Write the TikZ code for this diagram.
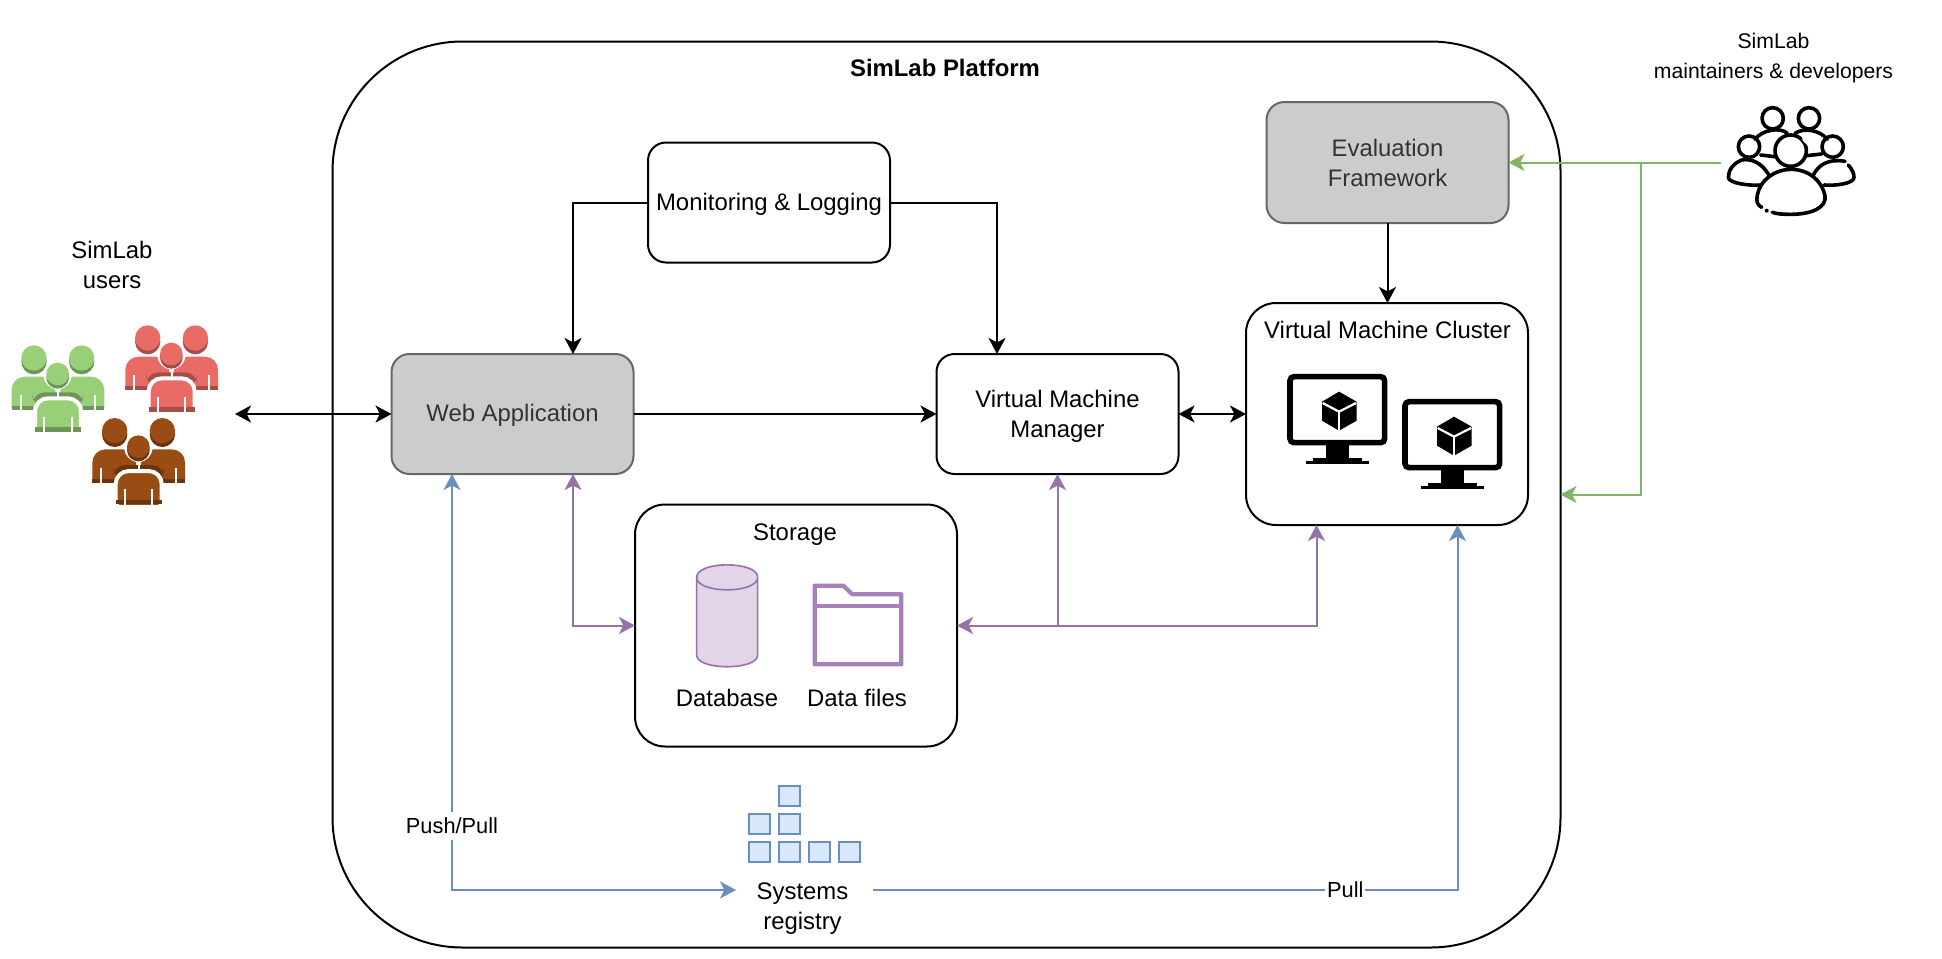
\documentclass[tikz,border=0pt]{standalone}
\usepackage{fontspec}
\setmainfont{Liberation Sans}
\usetikzlibrary{arrows.meta,calc}
\definecolor{grayfill}{HTML}{CCCCCC}
\definecolor{graydraw}{HTML}{666666}
\definecolor{graytext}{HTML}{333333}
\definecolor{purp}{HTML}{9673A6}
\definecolor{purpfill}{HTML}{E1D5E7}
\definecolor{purpicon}{HTML}{A680B8}
\definecolor{blu}{HTML}{6C8EBF}
\definecolor{blufill}{HTML}{DAE8FC}
\definecolor{grn}{HTML}{82B366}
\definecolor{pgreen}{HTML}{97D077}
\definecolor{pgreend}{HTML}{6D9656}
\definecolor{pred}{HTML}{EA6B66}
\definecolor{predd}{HTML}{A54D4A}
\definecolor{pbrown}{HTML}{994C13}
\definecolor{pbrownd}{HTML}{6B340C}
\tikzset{
  x=0.5pt,y=-0.5pt,
  >={Stealth[length=8pt,width=8.5pt,inset=2.2pt]},
  every node/.style={font=\fontsize{11.95}{15}\selectfont,align=center,inner sep=0pt,outer sep=0pt},
  box/.style={draw=black,line width=1pt,rounded corners=9pt,fill=white,minimum width=121pt,minimum height=60pt},
  graybox/.style={box,fill=grayfill,draw=graydraw,text=graytext},
  bigbox/.style={draw=black,line width=1pt,rounded corners=15pt,fill=white},
  conn/.style={line width=1pt,draw=black},
  pconn/.style={line width=1pt,draw=purp},
  bconn/.style={line width=1pt,draw=blu},
  gconn/.style={line width=1pt,draw=grn},
  regsq/.style={draw=blu,fill=blufill,line width=0.85pt},
  devline/.style={line width=1.8pt,draw=black,line cap=round,line join=round},
}
\newcommand{\lifted}[2]{\raisebox{#1}[\height][\depth]{\begin{tabular}{@{}c@{}}#2\end{tabular}}}
% one group of people, in coordinates of 3 units per pixel
\newcommand{\peoplegroup}[4]{%
\begin{scope}[shift={(#3,#4)},scale=1/3]
  \foreach \hx in {102,245}{
    \fill[#2] (\hx,425) circle (38);
    \fill[#1] (\hx,414) circle (38);
  }
  \fill[#1,rounded corners=6.5pt] (35,600) -- (35,470) -- (166,470) -- (166,600) -- cycle;
  \fill[#1,rounded corners=6.5pt] (181,600) -- (181,470) -- (313,470) -- (313,600) -- cycle;
  \fill[white] (30,571) rectangle (320,640);
  \fill[#2] (35,558) rectangle (100,570);
  \fill[#2] (248,558) rectangle (313,570);
  \draw[white,line width=0.9pt] (62,525) -- (62,571);
  \draw[white,line width=0.9pt] (286,525) -- (286,571);
  \fill[#2,rounded corners=6pt] (98,560) -- (98,517) -- (250,517) -- (250,560) -- cycle;
  \fill[#1] (60,535) rectangle (99,556);
  \fill[#1] (249,535) rectangle (290,556);
  \draw[white,line width=0.9pt] (62,525) -- (62,558);
  \draw[white,line width=0.9pt] (286,525) -- (286,558);
  \draw[white,line width=2pt,fill=#1,rounded corners=6.5pt] (105,660) -- (105,535) -- (243,535) -- (243,660) -- cycle;
  \fill[white] (90,636) rectangle (260,670);
  \fill[#2] (105,622) rectangle (243,635);
  \draw[white,line width=0.9pt] (133,590) -- (133,636);
  \draw[white,line width=0.9pt] (215,590) -- (215,636);
  \draw[white,line width=1pt] (174,500) -- (174,535);
  \fill[white] (173,466) circle (42);
  \fill[#2] (173,472) circle (34);
  \fill[#1] (173,462) circle (34);
\end{scope}}
% one monitor, in coordinates of 3 units per pixel
\newcommand{\vmmonitor}[2]{%
\begin{scope}[shift={(#1,#2)},scale=1/3]
  \draw[black,line width=2.8pt,rounded corners=2pt,fill=white] (150,230) rectangle (434,428);
  \fill[black] (257,430) rectangle (328,476);
  \fill[black] (218,475) rectangle (367,485);
  \fill[black] (199,484) rectangle (386,492);
  \fill[black] (297,275) -- (350,305) -- (350,362) -- (297,392) -- (246,362) -- (246,305) -- cycle;
  \draw[white,line width=1.1pt] (297,392) -- (297,335);
  \draw[white,line width=1.1pt] (297,335) -- (348,309);
  \draw[white,line width=1.1pt] (297,335) -- (248,309);
\end{scope}}
\begin{document}
\begin{tikzpicture}
\useasboundingbox (0,0) rectangle (1942,958);
% platform
\node[draw=black,line width=1pt,rounded corners=65pt,minimum width=614pt,minimum height=453pt] (plat) at (946.5,494.5) {};
\node[font=\fontsize{11.95}{15}\selectfont\bfseries] (plattitle) at (945,68) {SimLab Platform};
% boxes
\node[box] (mon) at (769,202.5) {\lifted{-1pt}{Monitoring \& Logging}};
\node[graybox] (web) at (512.5,414) {\lifted{-0.6pt}{Web Application}};
\node[box] (vmm) at (1057.5,414) {\lifted{-1pt}{Virtual Machine\\Manager}};
\node[graybox,minimum height=60.5pt] (eval) at (1387.5,162.5) {\lifted{-1.5pt}{Evaluation\\Framework}};
\node[bigbox,minimum width=141pt,minimum height=111pt] (vmc) at (1387,414) {};
\node (vmctitle) at (1387.5,329.5) {Virtual Machine Cluster};
\node[bigbox,minimum width=161pt,minimum height=121pt] (sto) at (796,625.5) {};
\node (stotitle) at (795,535) {Storage};
\node (dbtxt) at (727,698) {Database};
\node (filetxt) at (857,698) {Data files};
\node (regtxt) at (802.5,909) {Systems\\registry};
\node (simusers) at (112,265) {SimLab\\users};
\node[font=\fontsize{10.6}{15}\selectfont] (simdevs) at (1773.5,58.5) {SimLab\\maintainers \& developers};
\node[minimum width=70pt,minimum height=40pt] (devicon) at (1791,162.5) {};
% free ends
\coordinate (usersend) at (235,414);
\coordinate (regw) at (736,890);
\coordinate (rege) at (873,890);
\coordinate (gbranch) at (1641,162.5);
\coordinate (pbranch) at (1057.5,625.5);
\coordinate (webtop) at ($(web.north west)!0.75!(web.north east)$);
\coordinate (webbotp) at ($(web.south west)!0.75!(web.south east)$);
\coordinate (webbotb) at ($(web.south west)!0.25!(web.south east)$);
\coordinate (vmmtop) at ($(vmm.north west)!0.25!(vmm.north east)$);
\coordinate (vmcbotp) at ($(vmc.south west)!0.25!(vmc.south east)$);
\coordinate (vmcbotb) at ($(vmc.south west)!0.75!(vmc.south east)$);
% black connectors
\draw[conn,<->] (usersend) -- (web.west);
\draw[conn,->] (mon.west) -| (webtop);
\draw[conn,->] (mon.east) -| (vmmtop);
\draw[conn,->] (web.east) -- (vmm.west);
\draw[conn,<->] (vmm.east) -- (vmc.west);
\draw[conn,->] (eval.south) -- (eval.south |- vmc.north);
% green connectors
\draw[gconn,->] (devicon.west) -- (eval.east);
\draw[gconn,->] (gbranch) |- (plat.east);
% purple connectors
\draw[pconn,<->] (webbotp) |- (sto.west);
\draw[pconn,<->] (sto.east) -| (vmcbotp);
\draw[pconn,->] (pbranch) -- (vmm.south);
% blue connectors
\draw[bconn,<->] (webbotb) |- node[pos=0.423,fill=white,inner ysep=3pt,inner xsep=1pt] (pushlbl) {\fontsize{10.9}{13}\selectfont Push/Pull} (regw);
\draw[bconn,->] (rege) -| node[pos=0.404,fill=white,inner xsep=1pt,inner ysep=3pt] (pulllbl) {\fontsize{10.9}{13}\selectfont Pull} (vmcbotb);
% users
\peoplegroup{pgreen}{pgreend}{0}{220}
\peoplegroup{pred}{predd}{113.7}{200}
\peoplegroup{pbrown}{pbrownd}{80.7}{292.7}
% monitors
\vmmonitor{1240}{300}
\vmmonitor{1355}{325}
% database
\begin{scope}[shift={(680,550)},scale=1/3]
  \draw[purp,fill=purpfill,line width=0.8pt] (50,82) -- (50,315) .. controls (50,362) and (233,362) .. (233,315) -- (233,82) .. controls (233,32) and (50,32) .. (50,82) .. controls (50,132) and (233,132) .. (233,82);
  \draw[purpicon,line width=2.1pt,line join=round] (404,343) -- (404,107) -- (490,107) -- (517,133) -- (664,133) -- (664,343) -- cycle;
  \draw[purpicon,line width=2.1pt] (404,168) -- (664,168);
\end{scope}
% registry icon
\begin{scope}[shift={(720,770)},scale=1/3]
  \foreach \sx/\sy in {178/48,87/133,178/133,87/217,178/217,268/217,357/217}{
    \draw[regsq] (\sx,\sy) rectangle ++(62,60);
  }
\end{scope}
% maintainers icon
\begin{scope}[shift={(1700,90)},scale=1/3]
  \draw[devline] (218,85) circle (32);
  \draw[devline] (327,85) circle (32);
  \draw[devline] (147,170) circle (32);
  \draw[devline] (398,170) circle (32);
  \draw[devline] (165,148) .. controls (185,120) and (240,110) .. (262,130);
  \draw[devline] (285,130) .. controls (310,112) and (360,120) .. (382,148);
  \draw[devline] (272,182) circle (47);
  \fill[white] (306,140) -- (328,154) -- (322,166) -- (308,152) -- cycle;
  \draw[devline] (182,195) -- (225,200);
  \draw[devline] (320,197) -- (365,192);
  \draw[devline] (208,258) .. controls (185,215) and (150,205) .. (125,210) .. controls (100,220) and (85,240) .. (85,262) .. controls (85,280) and (150,288) .. (182,285);
  \draw[devline] (340,255) .. controls (355,225) and (385,205) .. (435,214);
  \draw[devline] (445,225) .. controls (458,240) and (462,252) .. (462,262) .. controls (462,280) and (410,288) .. (372,285);
  \draw[devline] (185,352) .. controls (172,345) and (168,335) .. (172,315) .. controls (180,270) and (225,238) .. (272,238) .. controls (325,238) and (365,270) .. (375,318) .. controls (380,350) and (340,373) .. (272,373) .. controls (250,373) and (230,372) .. (217,367);
  \fill[black] (200,362) circle (6);
\end{scope}
\end{tikzpicture}
\end{document}
